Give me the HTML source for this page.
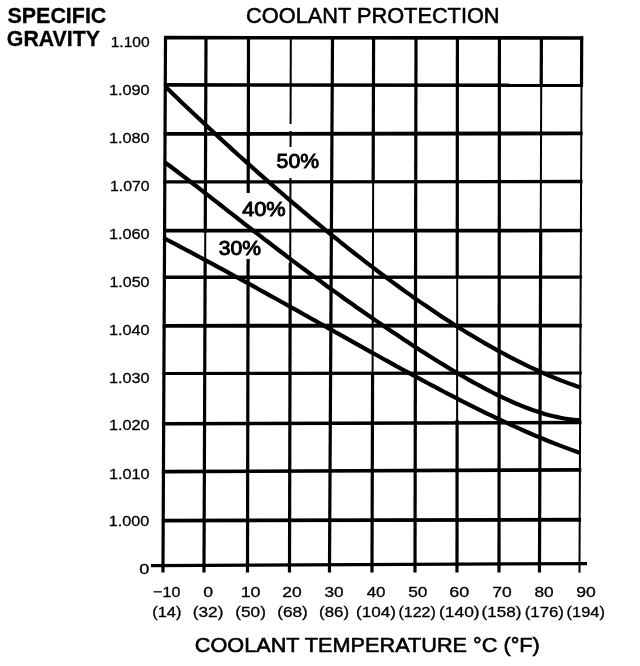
<!DOCTYPE html>
<html><head><meta charset="utf-8"><style>
html,body{margin:0;padding:0;background:#fff;}
svg{display:block;}
.g line{stroke:#000;stroke-width:3.2;}
.c path{stroke:#000;stroke-width:4.2;fill:none;stroke-linejoin:round;stroke-linecap:butt;}
text{font-family:"Liberation Sans",Arial,sans-serif;fill:#000;}
</style></head><body>
<svg width="640" height="666" viewBox="0 0 640 666">
<rect width="640" height="666" fill="#fff"/>
<g class="g">
<line x1="165.51" y1="36.20" x2="162.96" y2="572.50" style="stroke-width:3.20"/>
<line x1="206.00" y1="37.70" x2="205.26" y2="233.00" style="stroke-width:3.20"/>
<line x1="205.26" y1="233.00" x2="205.16" y2="260.00" style="stroke-width:2.00"/>
<line x1="205.16" y1="260.00" x2="203.97" y2="572.50" style="stroke-width:3.20"/>
<line x1="248.50" y1="37.70" x2="248.21" y2="193.00" style="stroke-width:3.20"/>
<line x1="248.08" y1="259.00" x2="247.49" y2="572.50" style="stroke-width:3.20"/>
<line x1="290.80" y1="37.70" x2="290.59" y2="124.00" style="stroke-width:2.00"/>
<line x1="290.57" y1="131.00" x2="290.53" y2="147.00" style="stroke-width:2.00"/>
<line x1="290.45" y1="178.00" x2="290.24" y2="263.00" style="stroke-width:2.00"/>
<line x1="290.24" y1="263.00" x2="289.48" y2="572.50" style="stroke-width:3.20"/>
<line x1="332.50" y1="37.70" x2="329.46" y2="572.50" style="stroke-width:3.20"/>
<line x1="373.60" y1="37.70" x2="373.16" y2="182.00" style="stroke-width:3.20"/>
<line x1="373.16" y1="182.00" x2="372.58" y2="373.00" style="stroke-width:2.00"/>
<line x1="372.58" y1="373.00" x2="371.98" y2="572.50" style="stroke-width:3.20"/>
<line x1="416.00" y1="37.70" x2="414.99" y2="572.50" style="stroke-width:3.20"/>
<line x1="457.40" y1="37.70" x2="457.22" y2="278.00" style="stroke-width:3.20"/>
<line x1="457.22" y1="278.00" x2="457.11" y2="420.00" style="stroke-width:2.00"/>
<line x1="457.11" y1="420.00" x2="456.99" y2="572.50" style="stroke-width:3.20"/>
<line x1="499.40" y1="37.70" x2="498.99" y2="572.50" style="stroke-width:3.20"/>
<line x1="541.40" y1="37.70" x2="541.22" y2="87.00" style="stroke-width:3.20"/>
<line x1="541.22" y1="87.00" x2="540.71" y2="230.00" style="stroke-width:2.00"/>
<line x1="540.71" y1="230.00" x2="539.47" y2="572.50" style="stroke-width:3.20"/>
<line x1="581.71" y1="36.20" x2="581.49" y2="87.00" style="stroke-width:3.20"/>
<line x1="581.49" y1="87.00" x2="579.47" y2="572.00" style="stroke-width:2.00"/>
<line x1="579.47" y1="572.00" x2="579.47" y2="572.50" style="stroke-width:3.20"/>
<line x1="164.10" y1="37.68" x2="583.10" y2="38.01" style="stroke-width:3.70"/>
<line x1="163.88" y1="84.87" x2="582.90" y2="85.32" style="stroke-width:3.60"/>
<line x1="163.64" y1="133.94" x2="582.70" y2="133.38" style="stroke-width:3.80"/>
<line x1="163.42" y1="181.93" x2="582.50" y2="181.48" style="stroke-width:3.30"/>
<line x1="163.18" y1="230.71" x2="582.29" y2="230.49" style="stroke-width:3.70"/>
<line x1="162.96" y1="277.31" x2="582.10" y2="277.09" style="stroke-width:3.40"/>
<line x1="162.73" y1="325.81" x2="581.90" y2="325.59" style="stroke-width:3.80"/>
<line x1="162.51" y1="373.54" x2="581.70" y2="372.98" style="stroke-width:3.10"/>
<line x1="162.27" y1="423.78" x2="581.49" y2="422.55" style="stroke-width:3.40"/>
<line x1="162.04" y1="471.61" x2="581.29" y2="469.93" style="stroke-width:3.70"/>
<line x1="161.81" y1="520.66" x2="581.09" y2="519.76" style="stroke-width:3.80"/>
<line x1="151.00" y1="565.57" x2="587.00" y2="563.59" style="stroke-width:3.30"/>
</g>
<g class="c">
<path d="M165.5 86.8 L169.5 90.6 L173.5 94.5 L177.5 98.3 L181.5 102.2 L185.5 106.0 L189.5 109.8 L193.5 113.5 L197.5 117.3 L201.5 121.1 L205.5 124.8 L209.5 128.5 L213.5 132.2 L217.5 135.9 L221.5 139.6 L225.5 143.3 L229.5 146.9 L233.5 150.6 L237.5 154.2 L241.5 157.8 L245.5 161.4 L249.5 164.9 L253.5 168.5 L257.5 172.1 L261.5 175.6 L265.5 179.1 L269.5 182.6 L273.5 186.1 L277.5 189.6 L281.5 193.0 L285.5 196.5 L289.5 199.9 L293.5 203.3 L297.5 206.7 L301.5 210.1 L305.5 213.4 L309.5 216.8 L313.5 220.1 L317.5 223.4 L321.5 226.7 L325.5 230.0 L329.5 233.3 L333.5 236.5 L337.5 239.7 L341.5 243.0 L345.5 246.1 L349.5 249.3 L353.5 252.5 L357.5 255.6 L361.5 258.7 L365.5 261.8 L369.5 264.9 L373.5 267.9 L377.5 271.0 L381.5 274.0 L385.5 277.0 L389.5 279.9 L393.5 282.9 L397.5 285.8 L401.5 288.7 L405.5 291.6 L409.5 294.4 L413.5 297.3 L417.5 300.1 L421.5 302.9 L425.5 305.6 L429.5 308.3 L433.5 311.0 L437.5 313.7 L441.5 316.4 L445.5 319.0 L449.5 321.6 L453.5 324.2 L457.5 326.7 L461.5 329.2 L465.5 331.7 L469.5 334.1 L473.5 336.5 L477.5 338.9 L481.5 341.3 L485.5 343.6 L489.5 345.9 L493.5 348.1 L497.5 350.3 L501.5 352.5 L505.5 354.7 L509.5 356.8 L513.5 358.9 L517.5 360.9 L521.5 362.9 L525.5 364.8 L529.5 366.8 L533.5 368.6 L537.5 370.5 L541.5 372.3 L545.5 374.0 L549.5 375.7 L553.5 377.4 L557.5 379.0 L561.5 380.6 L565.5 382.1 L569.5 383.6 L573.5 385.0 L577.5 386.4 L581.0 387.6"/>
<path d="M164.5 162.1 L168.5 165.0 L172.5 168.0 L176.5 171.0 L180.5 174.1 L184.5 177.1 L188.5 180.2 L192.5 183.3 L196.5 186.3 L200.5 189.4 L204.5 192.6 L208.5 195.7 L212.5 198.8 L216.5 201.9 L220.5 205.0 L224.5 208.2 L228.5 211.3 L232.5 214.4 L236.5 217.5 L240.5 220.7 L244.5 223.8 L248.5 226.9 L252.5 230.0 L256.5 233.1 L260.5 236.2 L264.5 239.3 L268.5 242.3 L272.5 245.4 L276.5 248.5 L280.5 251.5 L284.5 254.5 L288.5 257.6 L292.5 260.6 L296.5 263.6 L300.5 266.6 L304.5 269.5 L308.5 272.5 L312.5 275.5 L316.5 278.4 L320.5 281.3 L324.5 284.3 L328.5 287.2 L332.5 290.1 L336.5 292.9 L340.5 295.8 L344.5 298.7 L348.5 301.5 L352.5 304.3 L356.5 307.2 L360.5 310.0 L364.5 312.8 L368.5 315.5 L372.5 318.3 L376.5 321.1 L380.5 323.8 L384.5 326.5 L388.5 329.2 L392.5 331.9 L396.5 334.6 L400.5 337.3 L404.5 339.9 L408.5 342.6 L412.5 345.2 L416.5 347.8 L420.5 350.4 L424.5 352.9 L428.5 355.5 L432.5 358.0 L436.5 360.5 L440.5 363.0 L444.5 365.4 L448.5 367.9 L452.5 370.3 L456.5 372.6 L460.5 375.0 L464.5 377.3 L468.5 379.6 L472.5 381.8 L476.5 384.0 L480.5 386.2 L484.5 388.3 L488.5 390.4 L492.5 392.5 L496.5 394.5 L500.5 396.4 L504.5 398.3 L508.5 400.2 L512.5 402.0 L516.5 403.7 L520.5 405.4 L524.5 407.0 L528.5 408.5 L532.5 410.0 L536.5 411.3 L540.5 412.6 L544.5 413.9 L548.5 415.0 L552.5 416.0 L556.5 416.9 L560.5 417.8 L564.5 418.5 L568.5 419.1 L572.5 419.6 L576.5 420.0 L580.5 420.2 L581.0 420.2"/>
<path d="M163.5 237.9 L167.5 240.0 L171.5 242.1 L175.5 244.2 L179.5 246.3 L183.5 248.5 L187.5 250.6 L191.5 252.7 L195.5 254.8 L199.5 257.0 L203.5 259.1 L207.5 261.3 L211.5 263.4 L215.5 265.6 L219.5 267.8 L223.5 269.9 L227.5 272.1 L231.5 274.3 L235.5 276.5 L239.5 278.6 L243.5 280.8 L247.5 283.0 L251.5 285.2 L255.5 287.4 L259.5 289.7 L263.5 291.9 L267.5 294.1 L271.5 296.3 L275.5 298.5 L279.5 300.8 L283.5 303.0 L287.5 305.2 L291.5 307.5 L295.5 309.7 L299.5 311.9 L303.5 314.2 L307.5 316.4 L311.5 318.7 L315.5 320.9 L319.5 323.2 L323.5 325.4 L327.5 327.7 L331.5 329.9 L335.5 332.2 L339.5 334.4 L343.5 336.6 L347.5 338.9 L351.5 341.1 L355.5 343.4 L359.5 345.6 L363.5 347.9 L367.5 350.1 L371.5 352.3 L375.5 354.5 L379.5 356.8 L383.5 359.0 L387.5 361.2 L391.5 363.4 L395.5 365.6 L399.5 367.8 L403.5 370.0 L407.5 372.2 L411.5 374.4 L415.5 376.5 L419.5 378.7 L423.5 380.8 L427.5 383.0 L431.5 385.1 L435.5 387.2 L439.5 389.4 L443.5 391.5 L447.5 393.6 L451.5 395.6 L455.5 397.7 L459.5 399.8 L463.5 401.8 L467.5 403.8 L471.5 405.8 L475.5 407.8 L479.5 409.8 L483.5 411.8 L487.5 413.8 L491.5 415.7 L495.5 417.6 L499.5 419.5 L503.5 421.4 L507.5 423.2 L511.5 425.1 L515.5 426.9 L519.5 428.7 L523.5 430.5 L527.5 432.2 L531.5 434.0 L535.5 435.7 L539.5 437.4 L543.5 439.0 L547.5 440.7 L551.5 442.3 L555.5 443.9 L559.5 445.4 L563.5 446.9 L567.5 448.4 L571.5 449.9 L575.5 451.3 L579.5 452.7 L580.5 453.1"/>
</g>
<text x="110.68" y="46.60" font-size="15.40" stroke="#000" stroke-width="0.30" textLength="38.95" lengthAdjust="spacingAndGlyphs">1.100</text>
<text x="108.93" y="94.60" font-size="15.40" stroke="#000" stroke-width="0.30" textLength="40.63" lengthAdjust="spacingAndGlyphs">1.090</text>
<text x="108.93" y="142.60" font-size="15.40" stroke="#000" stroke-width="0.30" textLength="40.63" lengthAdjust="spacingAndGlyphs">1.080</text>
<text x="109.96" y="190.60" font-size="15.40" stroke="#000" stroke-width="0.30" textLength="39.58" lengthAdjust="spacingAndGlyphs">1.070</text>
<text x="108.93" y="238.60" font-size="15.40" stroke="#000" stroke-width="0.30" textLength="40.63" lengthAdjust="spacingAndGlyphs">1.060</text>
<text x="109.45" y="286.60" font-size="15.40" stroke="#000" stroke-width="0.30" textLength="40.10" lengthAdjust="spacingAndGlyphs">1.050</text>
<text x="108.93" y="334.60" font-size="15.40" stroke="#000" stroke-width="0.30" textLength="40.63" lengthAdjust="spacingAndGlyphs">1.040</text>
<text x="108.93" y="382.60" font-size="15.40" stroke="#000" stroke-width="0.30" textLength="40.63" lengthAdjust="spacingAndGlyphs">1.030</text>
<text x="108.93" y="430.10" font-size="15.40" stroke="#000" stroke-width="0.30" textLength="40.63" lengthAdjust="spacingAndGlyphs">1.020</text>
<text x="108.93" y="478.50" font-size="15.40" stroke="#000" stroke-width="0.30" textLength="40.63" lengthAdjust="spacingAndGlyphs">1.010</text>
<text x="108.74" y="526.10" font-size="15.40" stroke="#000" stroke-width="0.30" textLength="40.47" lengthAdjust="spacingAndGlyphs">1.000</text>
<text x="139.32" y="574.30" font-size="15.40" stroke="#000" stroke-width="0.30" textLength="10.13" lengthAdjust="spacingAndGlyphs">0</text>
<text x="153.09" y="597.20" font-size="15.12" stroke="#000" stroke-width="0.30" textLength="27.38" lengthAdjust="spacingAndGlyphs">−10</text>
<text x="203.19" y="597.20" font-size="15.12" stroke="#000" stroke-width="0.30" textLength="9.84" lengthAdjust="spacingAndGlyphs">0</text>
<text x="240.71" y="597.20" font-size="15.12" stroke="#000" stroke-width="0.30" textLength="19.85" lengthAdjust="spacingAndGlyphs">10</text>
<text x="282.38" y="597.20" font-size="15.12" stroke="#000" stroke-width="0.30" textLength="19.42" lengthAdjust="spacingAndGlyphs">20</text>
<text x="324.51" y="597.20" font-size="15.12" stroke="#000" stroke-width="0.30" textLength="19.13" lengthAdjust="spacingAndGlyphs">30</text>
<text x="366.67" y="597.20" font-size="15.12" stroke="#000" stroke-width="0.30" textLength="18.86" lengthAdjust="spacingAndGlyphs">40</text>
<text x="408.21" y="597.20" font-size="15.12" stroke="#000" stroke-width="0.30" textLength="19.23" lengthAdjust="spacingAndGlyphs">50</text>
<text x="449.25" y="597.20" font-size="15.12" stroke="#000" stroke-width="0.30" textLength="20.07" lengthAdjust="spacingAndGlyphs">60</text>
<text x="492.33" y="597.20" font-size="15.12" stroke="#000" stroke-width="0.30" textLength="19.47" lengthAdjust="spacingAndGlyphs">70</text>
<text x="534.42" y="597.20" font-size="15.12" stroke="#000" stroke-width="0.30" textLength="19.22" lengthAdjust="spacingAndGlyphs">80</text>
<text x="576.22" y="597.20" font-size="15.12" stroke="#000" stroke-width="0.30" textLength="19.53" lengthAdjust="spacingAndGlyphs">90</text>
<text x="152.22" y="617.34" font-size="15.00" stroke="#000" stroke-width="0.30" textLength="29.27" lengthAdjust="spacingAndGlyphs">(14)</text>
<text x="192.82" y="617.34" font-size="15.00" stroke="#000" stroke-width="0.30" textLength="30.62" lengthAdjust="spacingAndGlyphs">(32)</text>
<text x="235.32" y="617.34" font-size="15.00" stroke="#000" stroke-width="0.30" textLength="30.62" lengthAdjust="spacingAndGlyphs">(50)</text>
<text x="277.17" y="617.34" font-size="15.00" stroke="#000" stroke-width="0.30" textLength="30.67" lengthAdjust="spacingAndGlyphs">(68)</text>
<text x="319.10" y="617.34" font-size="15.00" stroke="#000" stroke-width="0.30" textLength="29.92" lengthAdjust="spacingAndGlyphs">(86)</text>
<text x="355.98" y="617.34" font-size="15.00" stroke="#000" stroke-width="0.30" textLength="39.93" lengthAdjust="spacingAndGlyphs">(104)</text>
<text x="398.55" y="617.34" font-size="15.00" stroke="#000" stroke-width="0.30" textLength="37.29" lengthAdjust="spacingAndGlyphs">(122)</text>
<text x="439.06" y="617.34" font-size="15.00" stroke="#000" stroke-width="0.30" textLength="40.62" lengthAdjust="spacingAndGlyphs">(140)</text>
<text x="481.58" y="617.34" font-size="15.00" stroke="#000" stroke-width="0.30" textLength="39.93" lengthAdjust="spacingAndGlyphs">(158)</text>
<text x="524.70" y="617.34" font-size="15.00" stroke="#000" stroke-width="0.30" textLength="39.30" lengthAdjust="spacingAndGlyphs">(176)</text>
<text x="566.62" y="617.34" font-size="15.00" stroke="#000" stroke-width="0.30" textLength="38.35" lengthAdjust="spacingAndGlyphs">(194)</text>
<text x="276.60" y="167.94" font-size="20.64" stroke="#000" stroke-width="0.90" textLength="42.47" lengthAdjust="spacingAndGlyphs">50%</text>
<text x="242.16" y="216.45" font-size="19.51" stroke="#000" stroke-width="0.90" textLength="43.48" lengthAdjust="spacingAndGlyphs">40%</text>
<text x="218.76" y="254.55" font-size="19.51" stroke="#000" stroke-width="0.90" textLength="42.26" lengthAdjust="spacingAndGlyphs">30%</text>
<text x="7.51" y="22.73" font-size="22.47" font-weight="bold" stroke="#000" stroke-width="0.30" textLength="98.82" lengthAdjust="spacingAndGlyphs">SPECIFIC</text>
<text x="6.80" y="46.42" font-size="22.90" font-weight="bold" stroke="#000" stroke-width="0.30" textLength="93.24" lengthAdjust="spacingAndGlyphs">GRAVITY</text>
<text x="246.11" y="22.57" font-size="22.61" stroke="#000" stroke-width="0.60" textLength="253.48" lengthAdjust="spacingAndGlyphs">COOLANT PROTECTION</text>
<text x="194.82" y="651.98" font-size="20.80" stroke="#000" stroke-width="0.60" textLength="344.99" lengthAdjust="spacingAndGlyphs">COOLANT TEMPERATURE °C (°F)</text>
</svg>
</body></html>
